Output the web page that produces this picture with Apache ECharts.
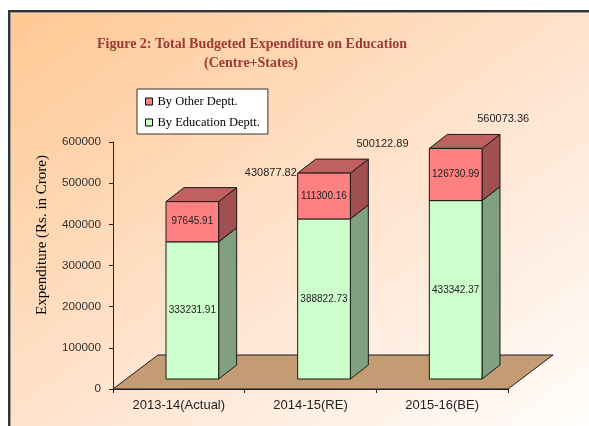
<!DOCTYPE html>
<html>
<head>
<meta charset="utf-8">
<script src="https://cdn.jsdelivr.net/npm/echarts@6/dist/echarts.min.js"></script>
<style>
  html, body { margin: 0; padding: 0; background: #fff; overflow: hidden; }
  #frame {
    position: absolute; left: 8px; top: 10px; width: 600px; height: 430px;
    border-left: 2px solid #333; border-top: 2px solid #333;
    box-shadow: inset 1px 1px 0 #999;
    background: linear-gradient(to bottom right, #FFC892 0%, #FFE3CD 50%, #FFFFFF 100%);
  }
  #main { position: absolute; left: 0; top: 0; width: 589px; height: 426px; }
</style>
</head>
<body>
<div id="frame"></div>
<div id="main"></div>
<script>
  // data
  var categories = ['2013-14(Actual)', '2014-15(RE)', '2015-16(BE)'];
  var educationDeptt = [333231.91, 388822.73, 433342.37];
  var otherDeptt = [97645.91, 111300.16, 126730.99];
  var totals = [430877.82, 500122.89, 560073.36];
  var seriesNames = ['By Other Deptt.', 'By Education Deptt.'];

  // 3d look (pixels)
  var FLOOR_DX = 45, FLOOR_DY = -34;
  var BAR_OFF_X = 13.5, BAR_OFF_Y = -10;
  var BAR_DX = 18, BAR_DY = -14;
  var TOTAL_LABEL_DX = [92, 72, 61], TOTAL_LABEL_DY = -39;
  var EDGE = '#1a1a1a';
  var SANS = '"Liberation Sans", Arial, sans-serif';
  var SERIF = '"Liberation Serif", "Times New Roman", serif';

  function barRenderer(front, side, top) {
    return function (params, api) {
      var i = api.value(0);
      var band = api.size([1, 0])[0];
      var w = band * 0.4;
      var base = api.coord([i, api.value(1)]);
      var tip = api.coord([i, api.value(2)]);
      var xl = base[0] - w / 2 + BAR_OFF_X, xr = xl + w;
      var yb = base[1] + BAR_OFF_Y, yt = tip[1] + BAR_OFF_Y;
      var st = { stroke: EDGE, lineWidth: 1 };
      return {
        type: 'group',
        children: [
          { type: 'polygon', shape: { points: [[xr, yb], [xr + BAR_DX, yb + BAR_DY], [xr + BAR_DX, yt + BAR_DY], [xr, yt]] },
            style: Object.assign({ fill: side }, st) },
          { type: 'polygon', shape: { points: [[xl, yt], [xl + BAR_DX, yt + BAR_DY], [xr + BAR_DX, yt + BAR_DY], [xr, yt]] },
            style: Object.assign({ fill: top }, st) },
          { type: 'rect', shape: { x: xl, y: yt, width: w, height: yb - yt },
            style: Object.assign({ fill: front }, st) },
          { type: 'text', x: (xl + xr) / 2, y: (yt + yb) / 2,
            style: { text: api.value(3).toFixed(2), align: 'center', verticalAlign: 'middle',
                     fontSize: 10, fontFamily: SANS, fill: '#222' } }
        ]
      };
    };
  }

  var eduData = categories.map(function (c, i) {
    return [i, 0, educationDeptt[i], educationDeptt[i]];
  });
  var otherData = categories.map(function (c, i) {
    return [i, educationDeptt[i], educationDeptt[i] + otherDeptt[i], otherDeptt[i]];
  });
  var totalData = categories.map(function (c, i) { return [i, totals[i]]; });

  var chart = echarts.init(document.getElementById('main'));
  chart.setOption({
    backgroundColor: 'transparent',
    animation: false,
    graphic: [
      { type: 'text', x: 252, y: 44, style: { text: 'Figure 2: Total Budgeted Expenditure on Education',
          align: 'center', verticalAlign: 'middle', fontSize: 14, fontWeight: 'bold', fontFamily: SERIF, fill: '#9C3A36' } },
      { type: 'text', x: 251, y: 63, style: { text: '(Centre+States)',
          align: 'center', verticalAlign: 'middle', fontSize: 14, fontWeight: 'bold', fontFamily: SERIF, fill: '#9C3A36' } },
      { type: 'text', x: 42, y: 235, rotation: Math.PI / 2, style: { text: 'Expenditure (Rs. in Crore)',
          align: 'center', verticalAlign: 'middle', fontSize: 15, fontFamily: SERIF, fill: '#000' } }
    ],
    legend: {
      data: seriesNames,
      orient: 'vertical',
      left: 137,
      top: 89,
      padding: [6, 8, 5, 8],
      itemGap: 8,
      itemWidth: 7,
      itemHeight: 7,
      icon: 'rect',
      itemStyle: { borderColor: '#000', borderWidth: 1 },
      backgroundColor: '#fff',
      borderColor: '#333',
      borderWidth: 1,
      borderRadius: 0,
      textStyle: { fontFamily: SERIF, fontSize: 12.5, color: '#000', lineHeight: 13 }
    },
    grid: { left: 113, right: 81, top: 142, bottom: 37, outerBoundsMode: 'none' },
    xAxis: {
      type: 'category',
      data: categories,
      axisLine: { show: true, lineStyle: { color: '#222' } },
      axisTick: { show: true, length: 4, lineStyle: { color: '#222' } },
      axisLabel: { margin: 10, fontFamily: SANS, fontSize: 13, color: '#222' },
      splitLine: { show: false }
    },
    yAxis: {
      type: 'value',
      min: 0,
      max: 600000,
      interval: 100000,
      axisLine: { show: true, lineStyle: { color: '#222' } },
      axisTick: { show: true, length: 4, lineStyle: { color: '#222' } },
      axisLabel: { margin: 12, fontFamily: SANS, fontSize: 11.7, color: '#333',
                   formatter: function (v) { return String(v); } },
      splitLine: { show: false }
    },
    series: [
      {
        name: 'floor',
        type: 'custom',
        z: 1,
        data: [[0, 0]],
        renderItem: function (params, api) {
          var p = api.coord([0, 0]);
          var band = api.size([1, 0])[0];
          var left = p[0] - band / 2, right = left + band * categories.length;
          return {
            type: 'polygon',
            shape: { points: [[left, p[1]], [left + FLOOR_DX, p[1] + FLOOR_DY], [right + FLOOR_DX, p[1] + FLOOR_DY], [right, p[1]]] },
            style: { fill: '#C49C74', stroke: EDGE, lineWidth: 1 }
          };
        }
      },
      {
        name: 'By Education Deptt.',
        type: 'custom',
        z: 2,
        itemStyle: { color: '#CCFFCC' },
        encode: { x: 0, y: [1, 2] },
        data: eduData,
        renderItem: barRenderer('#CCFFCC', '#80A080', '#A8D8A8')
      },
      {
        name: 'By Other Deptt.',
        type: 'custom',
        z: 3,
        itemStyle: { color: '#FF8080' },
        encode: { x: 0, y: [1, 2] },
        data: otherData,
        renderItem: barRenderer('#FF8080', '#A05050', '#C06060')
      },
      {
        name: 'total',
        type: 'custom',
        z: 4,
        data: totalData,
        renderItem: function (params, api) {
          var i = api.value(0);
          var p = api.coord([i, api.value(1)]);
          return {
            type: 'text',
            x: p[0] + TOTAL_LABEL_DX[i],
            y: p[1] + TOTAL_LABEL_DY,
            style: { text: api.value(1).toFixed(2), align: 'center', verticalAlign: 'middle',
                     fontSize: 11, fontFamily: SANS, fill: '#222' }
          };
        }
      }
    ]
  });
</script>
</body>
</html>
